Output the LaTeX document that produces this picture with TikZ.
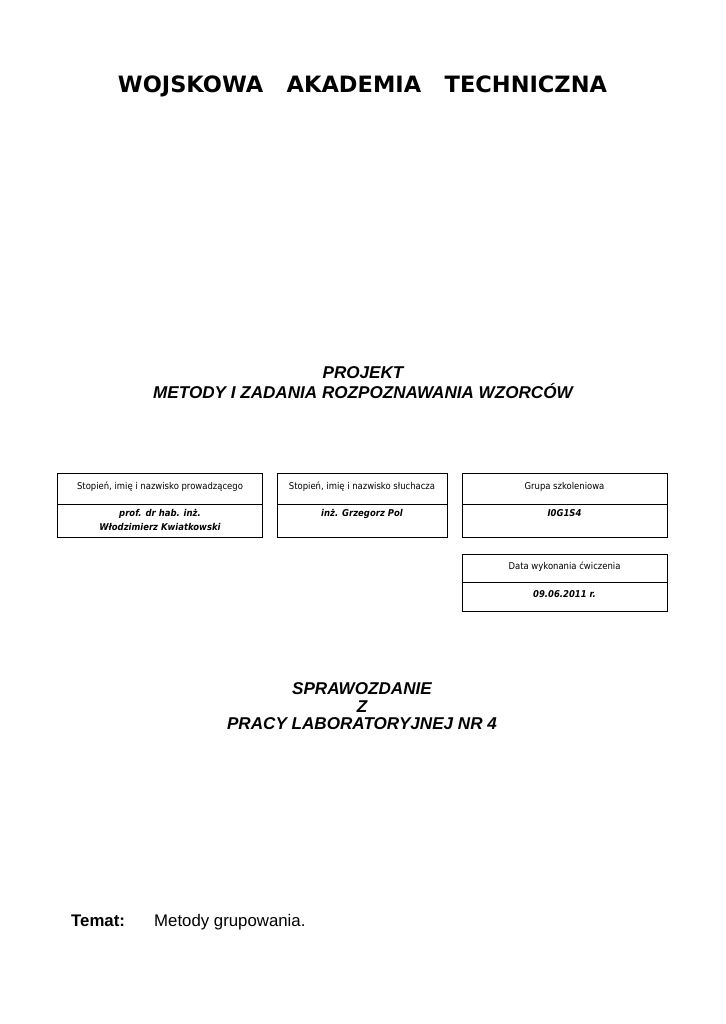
\documentclass[tikz,border=0pt]{standalone}
\usepackage{fontspec}
\setmainfont{Liberation Sans}
\newfontfamily\verdana{DejaVu Sans Bold}
\newfontfamily\tahoma[FakeStretch=0.9]{DejaVu Sans}

\tikzset{
  naglowek/.style={font=\tahoma\fontsize{9.4}{11}\selectfont, anchor=base, inner sep=0pt},
  wpis/.style={font=\tahoma\bfseries\itshape\fontsize{9.4}{11}\selectfont, anchor=base, inner sep=0pt},
  tytul/.style={font=\bfseries\itshape\fontsize{17.1}{20}\selectfont, anchor=base, inner sep=0pt},
  ramka/.style={line width=0.9pt},
}

\begin{document}
\begin{tikzpicture}[x=1pt,y=-1pt]
\useasboundingbox (0,0) rectangle (725,1024);

\node[font=\verdana\fontsize{22.5}{27}\selectfont, anchor=base, inner sep=0pt] (wat) at (362.5,93) {WOJSKOWA\ \ \ AKADEMIA\ \ \ TECHNICZNA};

\node[tytul] (projekt) at (363,378.5) {PROJEKT};
\node[tytul] (przedmiot) at (363,398) {METODY I ZADANIA ROZPOZNAWANIA WZORCÓW};

% tabelka
\foreach \a/\b in {57/262,277/447,462/667}{
  \draw[ramka] (\a,473) rectangle (\b,537);
  \draw[ramka] (\a,504) -- (\b,504);
}
\draw[ramka] (462,554) rectangle (667,611);
\draw[ramka] (462,582) -- (667,582);

\node[naglowek] (prowadzacy) at (160,489) {Stopień, imię i nazwisko prowadzącego};
\node[naglowek] (sluchacz) at (362,489) {Stopień, imię i nazwisko słuchacza};
\node[naglowek] (grupa) at (564.5,489) {Grupa szkoleniowa};
\node[naglowek] (data) at (564.5,569) {Data wykonania ćwiczenia};

\node[wpis] (prof) at (160,516) {prof. dr hab. inż.};
\node[wpis] (nazwisko) at (160,530) {Włodzimierz Kwiatkowski};
\node[wpis] (pol) at (362,516) {inż. Grzegorz Pol};
\node[wpis] (nrgrupy) at (564.5,516) {I0G1S4};
\node[wpis] (dzien) at (564.5,597) {09.06.2011 r.};

\node[tytul] (spr) at (362,694) {SPRAWOZDANIE};
\node[tytul] (z) at (362,712) {Z};
\node[tytul] (lab) at (362,729.5) {PRACY LABORATORYJNEJ NR 4};

\node[font=\bfseries\fontsize{16.8}{20}\selectfont, anchor=base west, inner sep=0pt] (temat) at (71,926) {Temat:};
\node[font=\fontsize{16.8}{20}\selectfont, anchor=base west, inner sep=0pt] (opis) at (154,926) {Metody grupowania.};

\end{tikzpicture}
\end{document}
